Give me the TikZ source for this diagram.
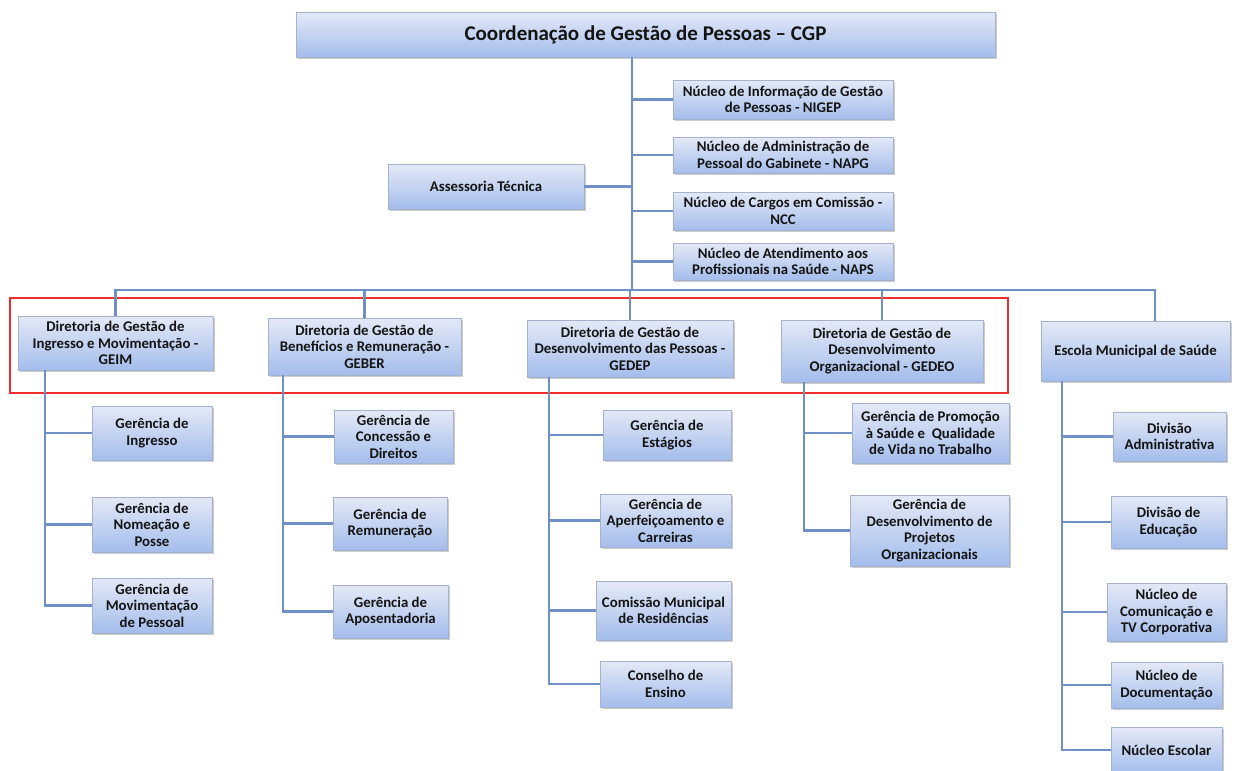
\documentclass[tikz,border=0pt]{standalone}
\usepackage{fontspec}
\setmainfont{Carlito}
\usetikzlibrary{shadows}

\definecolor{boxtop}{RGB}{228,233,246}
\definecolor{boxbot}{RGB}{164,189,236}
\definecolor{boxline}{RGB}{165,178,205}
\definecolor{linkblue}{RGB}{112,143,196}
\definecolor{marker}{RGB}{238,45,45}

\tikzset{
    unit/.style={draw=boxline, line width=0.6pt, top color=boxtop, bottom color=boxbot,
        align=center, font=\fontsize{14.8}{16.6}\selectfont\bfseries, text=black!92,
        inner sep=1pt, drop shadow={shadow xshift=1.5pt, shadow yshift=-1.5pt, fill=black!40, opacity=.5}},
    link/.style={draw=linkblue, line width=2.3pt}
}

\begin{document}
\begin{tikzpicture}[x=1pt, y=-1pt]

    % Page frame
    \useasboundingbox (0,0) rectangle (1245,771);

    % Spine positions
    \def\trunkx{632}
    \def\busy{290}
    \coordinate (trunk) at (\trunkx, 57);
    \coordinate (bus) at (\trunkx, \busy);
    \coordinate (busR) at (1155, \busy);

    % Top
    \node[unit, minimum width=699, minimum height=45, font=\fontsize{21}{24}\selectfont\bfseries]
        (cgp) at (645.5, 34.5) {Coordenação de Gestão de Pessoas -- CGP};

    % Nuclei on the trunk
    \node[unit, minimum width=220, minimum height=39] (nigep) at (783, 99.5) {Núcleo de Informação de Gestão\\de Pessoas - NIGEP};
    \node[unit, minimum width=220, minimum height=36] (napg) at (783, 155) {Núcleo de Administração de\\Pessoal do Gabinete - NAPG};
    \node[unit, minimum width=220, minimum height=38] (ncc) at (783, 211) {Núcleo de Cargos em Comissão -\\NCC};
    \node[unit, minimum width=220, minimum height=37] (naps) at (783, 261.5) {Núcleo de Atendimento aos\\Profissionais na Saúde - NAPS};
    \node[unit, minimum width=196, minimum height=45] (assessoria) at (486, 186.5) {Assessoria Técnica};

    % Directorates
    \node[unit, minimum width=195, minimum height=54] (geim) at (115.5, 343) {Diretoria de Gestão de\\Ingresso e Movimentação -\\GEIM};
    \node[unit, minimum width=193, minimum height=57] (geber) at (364.5, 346.5) {Diretoria de Gestão de\\Benefícios e Remuneração -\\GEBER};
    \node[unit, minimum width=206, minimum height=57] (gedep) at (630, 348.5) {Diretoria de Gestão de\\Desenvolvimento das Pessoas -\\GEDEP};
    \node[unit, minimum width=202, minimum height=62] (gedeo) at (882, 351) {Diretoria de Gestão de\\Desenvolvimento\\Organizacional - GEDEO};
    \node[unit, minimum width=189, minimum height=60] (escola) at (1135.5, 351) {Escola Municipal de Saúde};

    % Highlight
    \draw[marker, line width=1.1pt] (10, 298) rectangle (1008, 393);

    % GEIM
    \node[unit, minimum width=120, minimum height=54] (ingresso) at (152, 433) {Gerência de\\Ingresso};
    \node[unit, minimum width=120, minimum height=55] (nomeacao) at (152, 524.5) {Gerência de\\Nomeação e\\Posse};
    \node[unit, minimum width=120, minimum height=55] (movimentacao) at (152, 605.5) {Gerência de\\Movimentação\\de Pessoal};

    % GEBER
    \node[unit, minimum width=119, minimum height=53] (concessao) at (393.5, 436.5) {Gerência de\\Concessão e\\Direitos};
    \node[unit, minimum width=114, minimum height=53] (remuneracao) at (390, 523.5) {Gerência de\\Remuneração};
    \node[unit, minimum width=115, minimum height=53] (aposentadoria) at (390.5, 611.5) {Gerência de\\Aposentadoria};

    % GEDEP
    \node[unit, minimum width=128, minimum height=50] (estagios) at (667, 435) {Gerência de\\Estágios};
    \node[unit, minimum width=131, minimum height=53] (aperfeicoamento) at (665.5, 520.5) {Gerência de\\Aperfeiçoamento e\\Carreiras};
    \node[unit, minimum width=135, minimum height=59] (comissao) at (663.5, 610.5) {Comissão Municipal\\de Residências};
    \node[unit, minimum width=131, minimum height=46] (conselho) at (665.5, 684) {Conselho de\\Ensino};

    % GEDEO
    \node[unit, minimum width=157, minimum height=60] (promocao) at (930.5, 433) {Gerência de Promoção\\à Saúde e\ \ Qualidade\\de Vida no Trabalho};
    \node[unit, minimum width=159, minimum height=71] (projetos) at (929.5, 530.5) {Gerência de\\Desenvolvimento de\\Projetos\\Organizacionais};

    % Escola
    \node[unit, minimum width=113, minimum height=49] (divadm) at (1169.5, 436.5) {Divisão\\Administrativa};
    \node[unit, minimum width=115, minimum height=52] (diveduc) at (1168.5, 522) {Divisão de\\Educação};
    \node[unit, minimum width=119, minimum height=58] (comunicacao) at (1166.5, 612) {Núcleo de\\Comunicação e\\TV Corporativa};
    \node[unit, minimum width=111, minimum height=46] (documentacao) at (1166.5, 685) {Núcleo de\\Documentação};
    \node[unit, minimum width=111, minimum height=46] (escolar) at (1166.5, 750) {Núcleo Escolar};

    % Connectors
    \draw[link] (trunk) -- (bus);
    \foreach \n in {nigep, napg, ncc, naps}
        \draw[link] (trunk) |- (\n.west);
    \draw[link] (assessoria.east) -- (assessoria.east -| trunk);
    \draw[link] (geim.north) |- (busR) -- (busR |- escola.north);
    \foreach \n in {geber, gedep, gedeo}
        \draw[link] (\n.north) -- (\n.north |- bus);

    % Sub-spines
    \coordinate (sgeim) at (45, 370);
    \coordinate (sgeber) at (283, 375);
    \coordinate (sgedep) at (549, 377);
    \coordinate (sgedeo) at (804, 382);
    \coordinate (sescola) at (1062, 381);
    \foreach \n in {ingresso, nomeacao, movimentacao}
        \draw[link] (sgeim) |- (\n.west);
    \foreach \n in {concessao, remuneracao, aposentadoria}
        \draw[link] (sgeber) |- (\n.west);
    \foreach \n in {estagios, aperfeicoamento, comissao, conselho}
        \draw[link] (sgedep) |- (\n.west);
    \foreach \n in {promocao, projetos}
        \draw[link] (sgedeo) |- (\n.west);
    \foreach \n in {divadm, diveduc, comunicacao, documentacao, escolar}
        \draw[link] (sescola) |- (\n.west);

\end{tikzpicture}
\end{document}
